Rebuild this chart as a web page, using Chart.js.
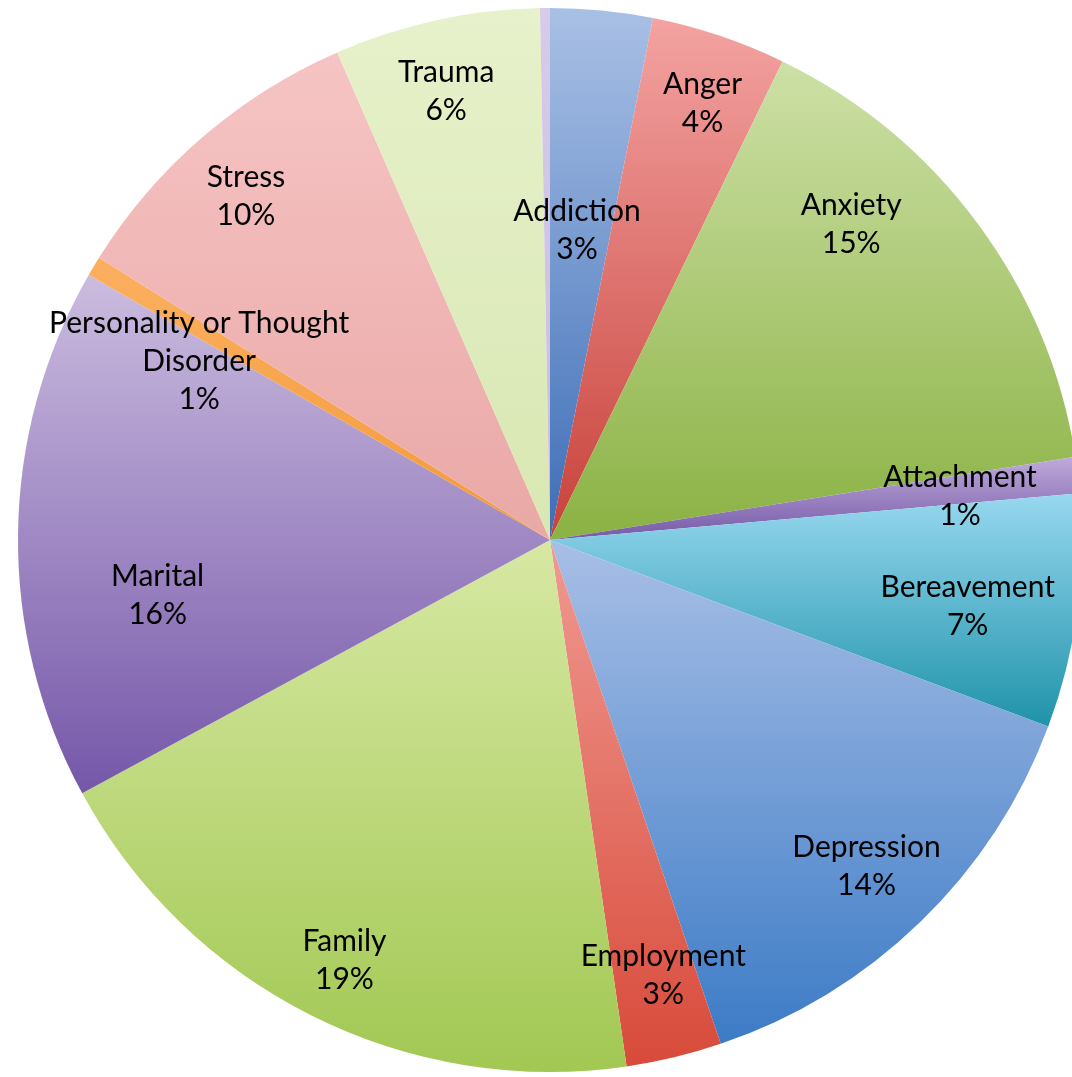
<!DOCTYPE html>
<html>
<head>
<meta charset="utf-8">
<script src="https://cdn.jsdelivr.net/npm/chart.js@4.4.1/dist/chart.umd.min.js"></script>
<style>
  html, body { margin: 0; padding: 0; background: #ffffff; overflow: hidden; }
  #wrap { position: absolute; left: 0; top: 0; width: 1100px; height: 1077px; }
</style>
</head>
<body>
<div id="wrap"><canvas id="c" width="1100" height="1077"></canvas></div>
<script>
// ---- data ----
const categories = ['Addiction', 'Anger', 'Anxiety', 'Attachment', 'Bereavement', 'Depression',
  'Employment', 'Family', 'Marital', 'Personality or Thought Disorder', 'Stress', 'Trauma', ''];
const shares = [3.1, 4.1, 15.3, 1.1, 7.1, 14.1, 2.9, 19.4, 16.2, 0.6, 9.55, 6.25, 0.3];

// ---- styles ----
const topColors = ['#a9c0e5', '#f3a3a2', '#cde0a6', '#bfaadb', '#97d8f0', '#a8bfe6',
  '#f09a92', '#d7e8a3', '#cbbcdf', '#fbb060', '#f6c4c4', '#e7f1cb', '#d6cbe8'];
const bottomColors = ['#3d6db7', '#c8423a', '#8bb244', '#7559a6', '#1f93a9', '#3c7bc6',
  '#d84a3a', '#a2c853', '#7557a9', '#f39a3a', '#e9a8a6', '#d8e7b2', '#c9bde0'];
const labelAngleShift = [-0.6, 0.7, -9.8, 1.0, 1.3, 0, -1.1, -0.6, -8.8, -4.0, -0.7, -0.7, 0];
const labelRadius = [0.585, 0.87, 0.82, 0.775, 0.795, 0.855, 0.845, 0.88, 0.745, 0.74, 0.863, 0.866, 0];
const FONT = '30px Lato, "Open Sans", sans-serif';
const LINE_H = 38;
const WRAP_W = 360;

function sliceGeometry(chart, index) {
  const ca = chart.chartArea;
  const cx = (ca.left + ca.right) / 2, cy = (ca.top + ca.bottom) / 2;
  const r = Math.min(ca.right - ca.left, ca.bottom - ca.top) / 2;
  const total = shares.reduce((a, b) => a + b, 0);
  let before = 0;
  for (let i = 0; i < index; i++) before += shares[i];
  const a0 = -Math.PI / 2 + before / total * Math.PI * 2;
  const a1 = a0 + shares[index] / total * Math.PI * 2;
  return { cx, cy, r, a0, a1 };
}

function sliceGradient(context) {
  const chart = context.chart;
  const i = context.dataIndex;
  if (!chart.chartArea || i === undefined) return topColors[i || 0];
  const g = sliceGeometry(chart, i);
  const ys = [g.cy, g.cy + g.r * Math.sin(g.a0), g.cy + g.r * Math.sin(g.a1)];
  [-Math.PI / 2, Math.PI / 2, Math.PI * 3 / 2].forEach(a => {
    if (a >= g.a0 && a <= g.a1) ys.push(g.cy + g.r * Math.sin(a));
  });
  const yMin = Math.min(...ys), yMax = Math.max(...ys);
  const grad = chart.ctx.createLinearGradient(0, yMin, 0, Math.max(yMax, yMin + 1));
  grad.addColorStop(0, topColors[i]);
  grad.addColorStop(1, bottomColors[i]);
  return grad;
}

function wrapText(ctx, text, maxW) {
  const words = text.split(' ');
  const lines = [];
  let cur = '';
  words.forEach(w => {
    const test = cur ? cur + ' ' + w : w;
    if (cur && ctx.measureText(test).width > maxW) { lines.push(cur); cur = w; }
    else cur = test;
  });
  if (cur) lines.push(cur);
  return lines;
}

const labelPlugin = {
  id: 'sliceLabels',
  afterDatasetsDraw(chart) {
    const ctx = chart.ctx;
    const meta = chart.getDatasetMeta(0);
    ctx.save();
    ctx.font = FONT;
    ctx.fillStyle = '#000000';
    ctx.textAlign = 'center';
    ctx.textBaseline = 'middle';
    meta.data.forEach((arc, i) => {
      if (!categories[i]) return;
      const p = arc.getProps(['x', 'y', 'startAngle', 'endAngle', 'outerRadius'], true);
      const a = (p.startAngle + p.endAngle) / 2 + labelAngleShift[i] * Math.PI / 180;
      const rr = p.outerRadius * labelRadius[i];
      const x = p.x + rr * Math.cos(a);
      const y = p.y + rr * Math.sin(a);
      const lines = wrapText(ctx, categories[i], WRAP_W);
      lines.push(Math.round(shares[i]) + '%');
      const y0 = y - (lines.length - 1) * LINE_H / 2;
      lines.forEach((ln, k) => ctx.fillText(ln, x, y0 + k * LINE_H));
    });
    ctx.restore();
  }
};

new Chart(document.getElementById('c'), {
  type: 'pie',
  data: {
    labels: categories,
    datasets: [{
      data: shares,
      backgroundColor: sliceGradient,
      borderWidth: 0
    }]
  },
  options: {
    responsive: false,
    animation: false,
    layout: { padding: { left: 18, right: 18, top: 8, bottom: 5 } },
    plugins: {
      legend: { display: false },
      tooltip: { enabled: false }
    }
  },
  plugins: [labelPlugin]
});
</script>
</body>
</html>
